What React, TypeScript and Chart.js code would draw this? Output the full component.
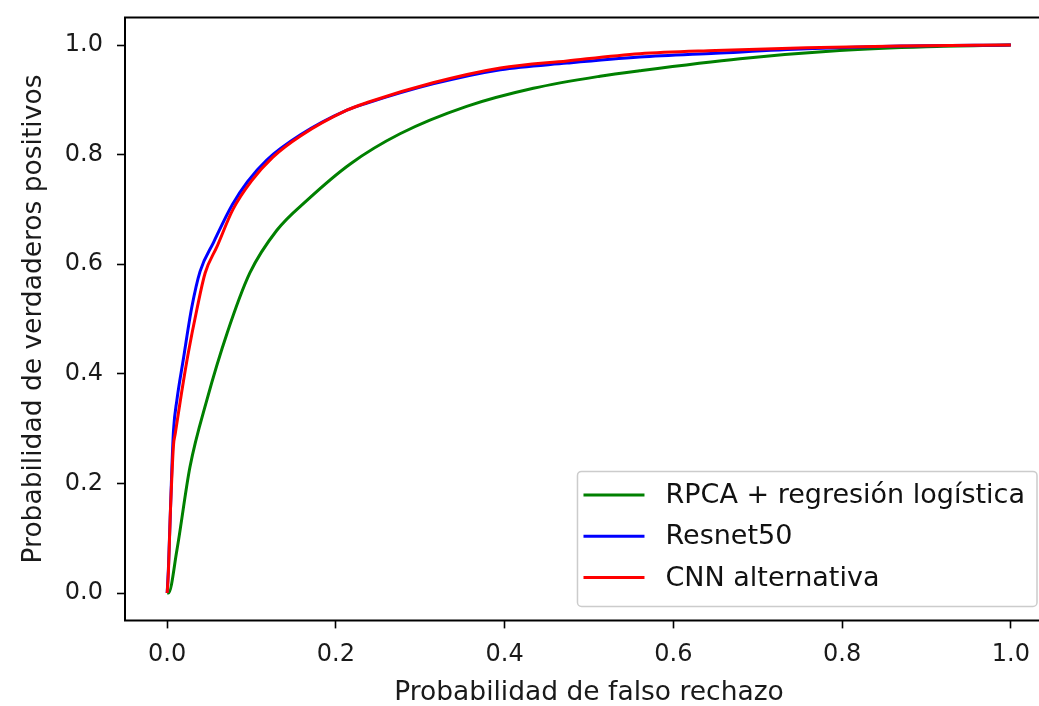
import React, { useEffect, useRef } from "react";
import { Chart, registerables } from "chart.js";

Chart.register(...registerables);

// ---- data ----
const seriesLabels = ["RPCA + regresión logística", "Resnet50", "CNN alternativa"];
const seriesColors = ["#008000", "#0000ff", "#ff0000"];

const fprRpca = [0, 0.0015, 0.0115, 0.027, 0.047, 0.071, 0.098, 0.13, 0.166, 0.217, 0.276, 0.355, 0.434, 0.513, 0.56, 0.679, 0.797, 0.9, 1.0];
const tprRpca = [0, 0.0, 0.078, 0.23, 0.352, 0.474, 0.584, 0.662, 0.717, 0.783, 0.838, 0.888, 0.921, 0.943, 0.953, 0.975, 0.99, 0.997, 1.0];

const fprResnet = [0, 0.0016, 0.0056, 0.0075, 0.0115, 0.019, 0.029, 0.039, 0.055, 0.077, 0.095, 0.118, 0.158, 0.213, 0.237, 0.315, 0.395, 0.474, 0.56, 0.65, 0.758, 0.87, 1.0];
const tprResnet = [0, 0.05, 0.23, 0.297, 0.352, 0.425, 0.52, 0.587, 0.640, 0.708, 0.750, 0.790, 0.836, 0.881, 0.894, 0.929, 0.955, 0.967, 0.978, 0.985, 0.993, 0.998, 1.0];

const fprCnn = [0, 0.0015, 0.0036, 0.0075, 0.0095, 0.017, 0.025, 0.035, 0.045, 0.059, 0.078, 0.1, 0.125, 0.158, 0.213, 0.237, 0.315, 0.395, 0.474, 0.56, 0.65, 0.758, 0.87, 1.0];
const tprCnn = [0, 0.04, 0.139, 0.27, 0.29, 0.365, 0.438, 0.516, 0.584, 0.632, 0.70, 0.752, 0.795, 0.834, 0.881, 0.895, 0.931, 0.958, 0.971, 0.984, 0.99, 0.995, 0.998, 1.0];

const xTicks = [0, 0.2, 0.4, 0.6, 0.8, 1.0];
const yTicks = [0, 0.2, 0.4, 0.6, 0.8, 1.0];
const xTitle = "Probabilidad de falso rechazo";
const yTitle = "Probabilidad de verdaderos positivos";

const FONT = "'DejaVu Sans', sans-serif";

const pts = (xs: number[], ys: number[]) => xs.map((x, i) => ({ x, y: ys[i] }));

const zeroPad = (s: any) => {
  s.paddingTop = 0;
  s.paddingBottom = 0;
  s.paddingLeft = 0;
  s.paddingRight = 0;
};

const framePlugin = {
  id: "frame",
  afterDraw(chart: any) {
    const { ctx, chartArea: a } = chart;
    ctx.save();
    ctx.strokeStyle = "#000";
    ctx.lineWidth = 2;
    ctx.beginPath();
    ctx.moveTo(a.right, a.top);
    ctx.lineTo(a.left, a.top);
    ctx.lineTo(a.left, a.bottom);
    ctx.lineTo(a.right, a.bottom);
    ctx.stroke();
    ctx.restore();
  },
};

const legendPlugin = {
  id: "mplLegend",
  afterDatasetsDraw(chart: any) {
    const { ctx, chartArea: a } = chart;
    ctx.save();
    ctx.font = `27px ${FONT}`;
    const textW = Math.max(...seriesLabels.map((s) => ctx.measureText(s).width));
    const padL = 6, lineLen = 61, gap = 21, padR = 12;
    const w = padL + lineLen + gap + textW + padR;
    const h = 135;
    const right = a.right - 16;
    const bottom = a.bottom - 14;
    const left = right - w;
    const top = bottom - h;
    ctx.beginPath();
    ctx.roundRect(left, top, w, h, 4);
    ctx.fillStyle = "rgba(255,255,255,0.85)";
    ctx.fill();
    ctx.strokeStyle = "#cccccc";
    ctx.lineWidth = 1.5;
    ctx.stroke();
    seriesLabels.forEach((label, i) => {
      const y = top + 23.5 + i * 41.3;
      ctx.beginPath();
      ctx.moveTo(left + padL, y);
      ctx.lineTo(left + padL + lineLen, y);
      ctx.strokeStyle = seriesColors[i];
      ctx.lineWidth = 3;
      ctx.stroke();
      ctx.fillStyle = "#111";
      ctx.textBaseline = "middle";
      ctx.textAlign = "left";
      ctx.fillText(label, left + padL + lineLen + gap, y + 1);
    });
    ctx.restore();
  },
};

export default function App() {
  const ref = useRef<HTMLCanvasElement | null>(null);

  useEffect(() => {
    if (!ref.current) return;
    const chart = new Chart(ref.current, {
      type: "scatter",
      data: {
        datasets: [
          { label: seriesLabels[0], data: pts(fprRpca, tprRpca), borderColor: seriesColors[0], order: 3 },
          { label: seriesLabels[1], data: pts(fprResnet, tprResnet), borderColor: seriesColors[1], order: 2 },
          { label: seriesLabels[2], data: pts(fprCnn, tprCnn), borderColor: seriesColors[2], order: 1 },
        ].map((d) => ({
          ...d,
          showLine: true,
          pointRadius: 0,
          borderWidth: 3,
          cubicInterpolationMode: "monotone" as const,
          fill: false,
        })),
      },
      options: {
        responsive: false,
        animation: false,
        devicePixelRatio: 1,
        layout: { padding: { left: 0, top: 17.6, right: 7, bottom: 0 } },
        plugins: { legend: { display: false }, tooltip: { enabled: false } },
        scales: {
          x: {
            type: "linear",
            min: -0.05,
            max: 1.05,
            afterBuildTicks: (s: any) => {
              s.ticks = xTicks.map((v) => ({ value: v }));
            },
            afterFit: (s: any) => {
              s.height = 706 - 620.4;
              zeroPad(s);
            },
            ticks: {
              callback: (v: any) => Number(v).toFixed(1),
              font: { family: FONT, size: 24 },
              color: "#1a1a1a",
              padding: 12,
              maxRotation: 0,
            },
            grid: { drawOnChartArea: false, drawTicks: true, tickLength: 8, tickWidth: 1.6, tickColor: "#000" },
            border: { display: false },
            title: {
              display: true,
              text: xTitle,
              font: { family: FONT, size: 26.5, lineHeight: 1 },
              color: "#1a1a1a",
              padding: 0,
            },
          },
          y: {
            type: "linear",
            min: -0.05,
            max: 1.05,
            afterBuildTicks: (s: any) => {
              s.ticks = yTicks.map((v) => ({ value: v }));
            },
            afterFit: (s: any) => {
              s.width = 125;
              zeroPad(s);
            },
            ticks: {
              callback: (v: any) => Number(v).toFixed(1),
              font: { family: FONT, size: 24 },
              color: "#1a1a1a",
              padding: 14,
            },
            grid: { drawOnChartArea: false, drawTicks: true, tickLength: 8, tickWidth: 1.6, tickColor: "#000" },
            border: { display: false },
            title: {
              display: true,
              text: yTitle,
              font: { family: FONT, size: 26.5, lineHeight: 1 },
              color: "#1a1a1a",
              padding: { top: 21, bottom: 0 },
            },
          },
        },
      },
      plugins: [legendPlugin, framePlugin],
    });
    return () => chart.destroy();
  }, []);

  return (
    <div
      style={{
        position: "fixed",
        left: 0,
        top: 0,
        width: 1039,
        height: 706,
        overflow: "hidden",
        background: "#fff",
      }}
    >
      <canvas ref={ref} width={1060} height={706} style={{ display: "block" }} />
    </div>
  );
}
